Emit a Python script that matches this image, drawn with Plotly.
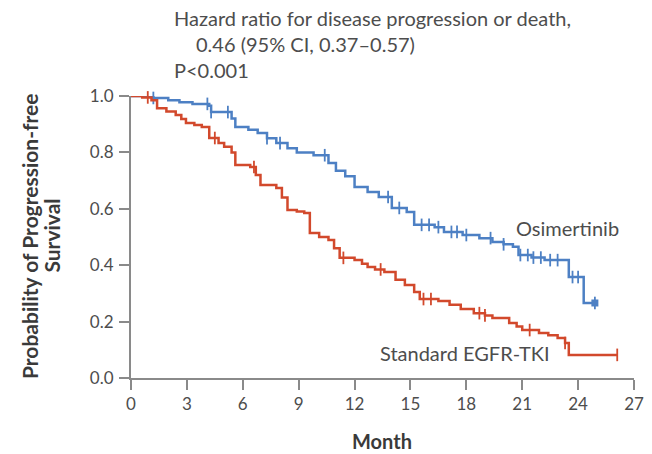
import numpy as np
import plotly.graph_objects as go

# Kaplan-Meier step points (month, probability of progression-free survival)
osi_t = [0, 1.2, 2.0, 2.6, 3.3, 4.2, 4.3, 5.4, 5.6, 6.3, 6.8, 7.3, 7.8, 8.4, 8.9, 9.8,
         10.6, 11.0, 11.5, 12.0, 12.7, 13.3, 14.0, 14.8, 15.2, 16.3, 16.8, 17.8, 18.7,
         19.4, 20.0, 20.5, 20.8, 21.5, 22.2, 23.5, 24.3]
osi_s = [1.0, 0.993, 0.985, 0.978, 0.972, 0.965, 0.943, 0.92, 0.89, 0.88, 0.869, 0.85,
         0.833, 0.815, 0.80, 0.79, 0.762, 0.735, 0.715, 0.677, 0.66, 0.642, 0.603, 0.589,
         0.543, 0.535, 0.518, 0.507, 0.496, 0.482, 0.474, 0.465, 0.436, 0.427, 0.418,
         0.358, 0.266]
osi_end = 24.9
osi_censor = [1.2, 4.1, 4.3, 5.2, 7.3, 8.0, 10.4, 13.8, 14.4, 15.6, 16.0, 16.5, 17.2,
              17.5, 18.0, 19.3, 20.0, 20.9, 21.3, 21.6, 22.0, 22.5, 22.9, 23.7, 24.0]

std_t = [0, 0.6, 1.1, 1.4, 1.9, 2.4, 2.7, 2.95, 3.4, 3.8, 4.2, 4.7, 5.0, 5.4, 5.6, 6.4,
         6.7, 6.95, 7.8, 8.1, 8.4, 8.9, 9.3, 9.6, 10.1, 10.6, 10.9, 11.2, 12.0, 12.4,
         12.7, 13.1, 13.6, 14.2, 14.7, 15.2, 15.5, 16.5, 17.1, 17.7, 18.4, 19.0, 19.4,
         20.3, 20.7, 21.0, 21.9, 22.4, 22.9, 23.3, 23.5]
std_s = [1.0, 0.995, 0.985, 0.957, 0.945, 0.933, 0.918, 0.904, 0.897, 0.89, 0.851, 0.833,
         0.82, 0.80, 0.755, 0.748, 0.72, 0.684, 0.674, 0.64, 0.596, 0.59, 0.585, 0.514,
         0.50, 0.489, 0.46, 0.426, 0.418, 0.405, 0.394, 0.385, 0.376, 0.348, 0.33, 0.305,
         0.28, 0.273, 0.26, 0.245, 0.23, 0.222, 0.213, 0.195, 0.183, 0.17, 0.16, 0.152,
         0.142, 0.124, 0.082]
std_end = 26.1
std_censor = [0.9, 4.5, 6.6, 11.4, 13.4, 15.7, 16.1, 18.7, 19.0, 21.4, 23.3]

x_ticks = [0, 3, 6, 9, 12, 15, 18, 21, 24, 27]
y_ticks = [0.0, 0.2, 0.4, 0.6, 0.8, 1.0]

BLUE = "#4d80c4"
RED = "#d2492c"
AXIS = "#8a8a8a"
TXT = "#4d4d4d"
TITLE = "#3a3a3a"
FONT = "Lato"

# page and plot-area geometry (pixels)
W, H = 652, 454
L, R, T, B = 131, 8, 96, 76
pw, ph = W - L - R, H - T - B


def px_to_paper(x, y):
    return (x - L) / pw, (H - B - y) / ph


def step_value(t_list, s_list, t):
    idx = np.searchsorted(np.array(t_list), t, side="right") - 1
    return s_list[max(idx, 0)]


fig = go.Figure()

for t_list, s_list, t_end, cens, col in [
    (osi_t, osi_s, osi_end, osi_censor, BLUE),
    (std_t, std_s, std_end, std_censor, RED),
]:
    fig.add_trace(go.Scatter(
        x=t_list + [t_end], y=s_list + [s_list[-1]],
        mode="lines", line=dict(color=col, width=2.5, shape="hv"),
        cliponaxis=False, hoverinfo="skip", showlegend=False,
    ))
    fig.add_trace(go.Scatter(
        x=cens + [t_end],
        y=[step_value(t_list, s_list, c) for c in cens] + [s_list[-1]],
        mode="markers",
        marker=dict(symbol="line-ns", size=9, line=dict(color=col, width=1.8)),
        cliponaxis=False, hoverinfo="skip", showlegend=False,
    ))

# closing marker on the osimertinib curve
fig.add_trace(go.Scatter(
    x=[osi_end], y=[osi_s[-1]], mode="markers",
    marker=dict(symbol="square", size=7, color=BLUE),
    cliponaxis=False, hoverinfo="skip", showlegend=False,
))

axis_common = dict(
    showgrid=False, zeroline=False, showline=True, linecolor=AXIS, linewidth=2,
    ticks="outside", ticklen=10, tickwidth=2, tickcolor=AXIS,
    tickfont=dict(family=FONT, size=17, color=TXT),
)

fig.update_layout(
    width=W, height=H,
    margin=dict(l=L, r=R, t=T, b=B),
    paper_bgcolor="white", plot_bgcolor="white",
    font=dict(family=FONT, color=TXT, size=20),
    xaxis=dict(range=[0, 27], tickvals=x_ticks, ticktext=[str(v) for v in x_ticks],
               ticklabeloverflow="allow", **axis_common),
    yaxis=dict(range=[0, 1], tickvals=y_ticks, ticktext=[f"{v:.1f}" for v in y_ticks],
               ticklabelstandoff=2, **axis_common),
)

ann = []
# header with the hazard ratio
for txt, xp, yp in [
    ("Hazard ratio for disease progression or death,", 173, 18),
    ("0.46 (95% CI, 0.37\u20130.57)", 195, 44),
    ("P<0.001", 173, 70),
]:
    px, py = px_to_paper(xp, yp)
    ann.append(dict(text=txt, x=px, y=py, xref="paper", yref="paper", showarrow=False,
                    xanchor="left", yanchor="middle",
                    font=dict(family=FONT, size=20, color=TXT)))

# curve labels
for txt, xp, yp in [
    ("Osimertinib", 522, 228),
    ("Standard EGFR-TKI", 383, 353),
]:
    px, py = px_to_paper(xp, yp)
    ann.append(dict(text=txt, x=px, y=py, xref="paper", yref="paper", showarrow=False,
                    xanchor="left", yanchor="middle",
                    font=dict(family=FONT, size=20, color=TXT)))

# axis titles
px, py = px_to_paper(387, 454)
ann.append(dict(text="<b>Month</b>", x=px, y=py, xref="paper", yref="paper",
                showarrow=False, xanchor="center", yanchor="bottom", borderpad=0,
                font=dict(family=FONT, size=20, color=TITLE)))

for txt, xp in [("<b>Probability of Progression-free</b>", 27), ("<b>Survival</b>", 49)]:
    px, py = px_to_paper(xp, 236)
    ann.append(dict(text=txt, x=px, y=py, xref="paper", yref="paper", showarrow=False,
                    textangle=-90, xanchor="center", yanchor="middle",
                    font=dict(family=FONT, size=21, color=TITLE)))

fig.layout.annotations = ann

fig.write_html("out.html")
